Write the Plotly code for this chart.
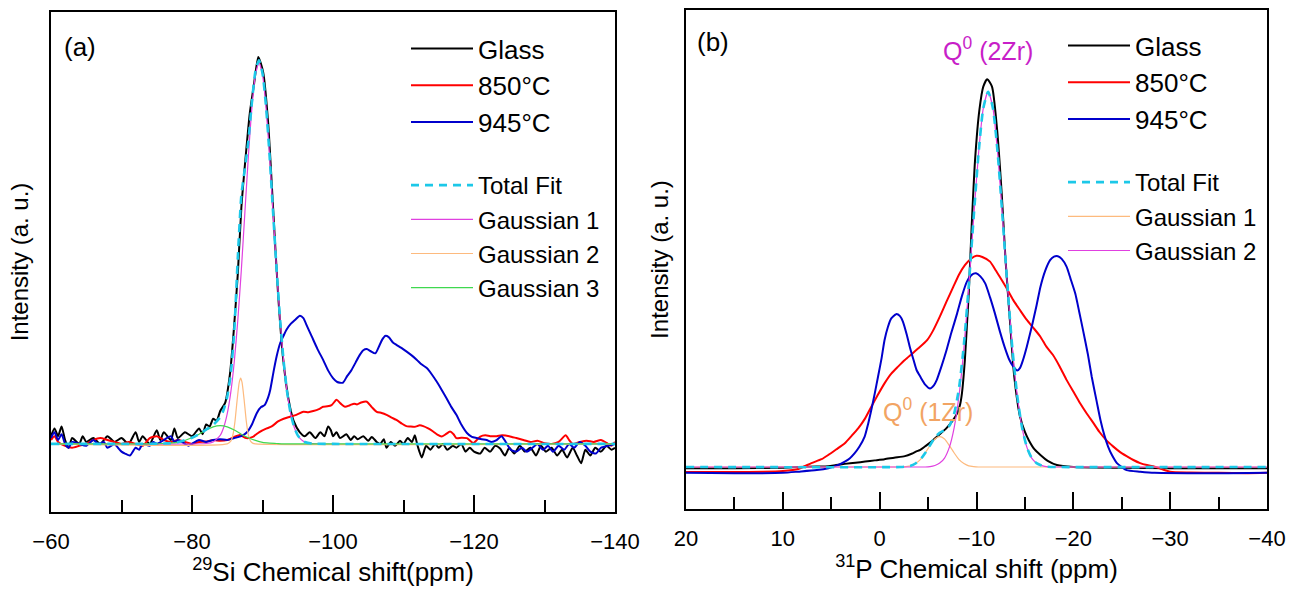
import plotly.graph_objects as go

W, H = 1289, 590

# ---------------- Panel (a): 29Si ----------------
si_glass_x = [-60, -60.5, -61, -61.5, -62, -62.5, -63, -64, -64.5, -65, -66, -67, -68, -69, -70, -71, -72, -72.5, -73, -74, -75, -75.5, -76, -77, -77.5, -78, -79, -80, -81, -81.5, -82, -82.5, -83, -83.5, -84, -84.7, -85.4, -85.9, -86.5, -87.0, -87.7, -88.2, -88.8, -89.4, -90.1, -90.8, -91.5, -92.2, -92.9, -93.7, -94.4, -95.3, -96, -96.7, -97.5, -98.2, -98.8, -99.3, -99.7, -100, -100.5, -101, -101.9, -102.5, -103, -103.5, -104.3, -105, -105.5, -106.2, -106.7, -107.2, -107.6, -108.2, -108.8, -109.5, -110, -110.6, -111.2, -111.6, -112, -112.6, -113.2, -113.8, -114.5, -115, -115.6, -116.2, -117, -117.5, -118.2, -118.8, -119.4, -120, -120.9, -121.5, -122.3, -123, -123.7, -124.4, -125, -125.7, -126.5, -127.2, -128, -128.8, -129.5, -130.2, -131, -131.8, -132.5, -133.2, -134, -134.6, -135.2, -135.8, -136.5, -137.2, -138, -138.8, -139.5, -140]
si_glass_y = [0.02, 0.04, 0.02, 0.045, 0.01, -0.01, 0.015, 0.0, 0.02, 0.005, 0.015, 0.0, 0.02, 0.005, 0.015, 0.0, 0.03, 0.005, 0.02, 0.0, 0.035, 0.01, 0.03, 0.01, 0.04, 0.015, 0.03, 0.02, 0.04, 0.025, 0.05, 0.045, 0.065, 0.06, 0.085, 0.106, 0.183, 0.287, 0.44, 0.61, 0.76, 0.855, 0.93, 1.0, 0.96, 0.83, 0.61, 0.39, 0.225, 0.114, 0.06, 0.03, 0.02, 0.03, 0.015, 0.03, 0.02, 0.045, 0.035, 0.02, 0.03, 0.015, 0.025, 0.01, 0.02, 0.012, 0.02, 0.008, 0.018, 0.005, 0.0, 0.012, -0.01, 0.005, -0.005, 0.008, 0.0, 0.015, 0.005, 0.022, -0.005, -0.035, -0.005, -0.015, 0.0, -0.01, 0.0, -0.015, -0.005, -0.01, 0.0, -0.02, -0.01, -0.02, -0.025, -0.01, -0.02, -0.005, -0.012, -0.03, -0.01, -0.025, -0.005, -0.02, -0.01, -0.03, -0.005, -0.02, -0.01, -0.03, -0.015, -0.035, -0.01, -0.03, -0.05, -0.015, -0.03, -0.01, -0.02, -0.005, -0.015, -0.01]

si_850_x = [-60, -60.5, -61, -62, -63, -64, -65, -66, -67, -68, -69, -70, -71, -72, -73, -74, -75, -76, -77, -78, -79, -80, -81, -82, -83, -84, -85, -86, -86.8, -87.7, -88.7, -89.5, -90.6, -91.3, -92.2, -93, -93.9, -94.8, -95.8, -96.5, -97.2, -98, -98.6, -99.2, -99.8, -100.5, -101.1, -101.7, -102.4, -103.0, -103.4, -104.0, -104.8, -105.5, -106.2, -106.9, -107.6, -108.3, -109.0, -109.8, -110.4, -110.9, -111.6, -112.3, -112.8, -113.5, -114.2, -114.8, -115.4, -116, -116.6, -117.1, -117.5, -118.2, -119.0, -119.9, -120.4, -120.9, -121.6, -122.3, -123.2, -124, -125, -126, -127, -128, -129, -130, -131, -132, -133, -133.5, -134, -135, -136, -137, -138, -139, -139.5, -140]
si_850_y = [0.01, 0.02, 0.005, -0.005, -0.01, -0.005, 0.0, 0.01, 0.015, 0.01, 0.005, 0.0, 0.005, 0.0, -0.005, 0.015, 0.02, 0.01, 0.005, 0.01, 0.005, 0.0, 0.005, 0.006, 0.01, 0.008, 0.01, 0.018, 0.023, 0.015, 0.019, 0.03, 0.04, 0.045, 0.058, 0.065, 0.07, 0.075, 0.083, 0.082, 0.085, 0.09, 0.096, 0.097, 0.1, 0.114, 0.104, 0.096, 0.1, 0.104, 0.102, 0.107, 0.109, 0.095, 0.083, 0.08, 0.075, 0.068, 0.062, 0.052, 0.046, 0.045, 0.044, 0.048, 0.046, 0.04, 0.032, 0.024, 0.019, 0.025, 0.032, 0.025, 0.015, 0.016, 0.015, 0.002, 0.01, 0.019, 0.022, 0.02, 0.02, 0.022, 0.02, 0.015, 0.01, 0.005, 0.008, 0.002, 0.0, 0.005, 0.022, 0.01, 0.0, 0.005, 0.008, 0.005, 0.01, 0.0, -0.005, 0.005]

si_945_x = [-60, -60.5, -61, -61.5, -62, -62.5, -63, -64, -65, -66, -66.7, -67.5, -68, -69, -69.5, -70, -70.5, -71.2, -72, -72.5, -73, -74, -74.5, -75, -76, -77, -77.5, -78, -79, -79.5, -80, -81, -82, -83, -84, -85, -86, -87, -87.8, -88.5, -89.2, -89.8, -90.3, -90.8, -91.1, -91.6, -92.0, -92.5, -93.0, -93.4, -94, -94.6, -95.3, -95.8, -96.3, -97.0, -97.8, -98.6, -99.3, -100.0, -100.6, -101.4, -102, -102.6, -103.2, -103.8, -104.3, -104.8, -105.3, -106.0, -106.6, -107.0, -107.4, -107.9, -108.5, -109.0, -109.7, -110.4, -111.2, -111.9, -112.6, -113.3, -114.0, -114.7, -115.4, -116.1, -116.8, -117.5, -118.2, -119.0, -119.7, -120.4, -121.1, -121.8, -122.5, -123.2, -123.9, -124.5, -125.2, -126, -126.8, -127.5, -128.3, -129, -129.8, -130.5, -131.2, -132, -132.8, -133.5, -134.2, -135, -135.8, -136.5, -137.3, -138, -139, -140]
si_945_y = [0.015, 0.03, 0.01, 0.025, 0.0, -0.01, 0.005, 0.0, -0.005, 0.01, 0.0, 0.005, -0.01, 0.0, -0.01, -0.02, -0.025, -0.03, -0.01, -0.015, 0.0, -0.005, 0.005, 0.0, 0.01, 0.02, 0.005, 0.01, 0.0, -0.005, 0.0, 0.01, 0.005, 0.01, 0.012, 0.01, 0.015, 0.02, 0.03, 0.05, 0.08, 0.095, 0.1, 0.12, 0.14, 0.19, 0.226, 0.26, 0.28, 0.295, 0.31, 0.32, 0.331, 0.325, 0.305, 0.277, 0.245, 0.217, 0.19, 0.17, 0.16, 0.158, 0.175, 0.19, 0.21, 0.23, 0.242, 0.245, 0.24, 0.234, 0.255, 0.27, 0.279, 0.276, 0.262, 0.256, 0.248, 0.239, 0.228, 0.217, 0.205, 0.196, 0.18, 0.161, 0.14, 0.118, 0.095, 0.075, 0.05, 0.028, 0.018, 0.015, 0.012, 0.01, 0.005, 0.01, 0.02, 0.005, -0.015, -0.02, -0.01, -0.02, -0.01, 0.0, -0.015, -0.005, -0.02, -0.005, -0.015, 0.0, -0.01, 0.005, -0.005, -0.02, -0.025, -0.01, -0.005, 0.0]

si_fit_x = [-60, -76, -78, -80, -81, -82, -83, -84, -84.5, -85, -85.5, -86, -86.5, -87, -87.5, -88, -88.5, -89, -89.5, -90, -90.5, -91, -91.5, -92, -92.5, -93, -93.5, -94, -94.5, -95, -95.5, -96, -97, -100, -140]
si_fit_y = [0, 0.001, 0.004, 0.016, 0.025, 0.037, 0.049, 0.069, 0.089, 0.122, 0.181, 0.294, 0.482, 0.642, 0.712, 0.783, 0.883, 0.963, 0.991, 0.958, 0.872, 0.746, 0.599, 0.451, 0.32, 0.213, 0.133, 0.078, 0.043, 0.022, 0.011, 0.005, 0.001, 0, 0]

si_g1_x = [-60, -82, -83, -84, -84.5, -85, -85.5, -86, -86.5, -87, -87.5, -88, -88.5, -89, -89.5, -90, -90.5, -91, -91.5, -92, -92.5, -93, -93.5, -94, -94.5, -95, -95.5, -96, -97, -140]
si_g1_y = [0, 0.001, 0.005, 0.022, 0.043, 0.078, 0.133, 0.213, 0.32, 0.45, 0.598, 0.744, 0.869, 0.954, 0.985, 0.954, 0.869, 0.744, 0.598, 0.45, 0.32, 0.213, 0.133, 0.078, 0.043, 0.022, 0.011, 0.005, 0.001, 0]

si_g2_x = [-60, -85.0, -85.5, -85.8, -86.1, -86.4, -86.7, -86.9, -87.1, -87.4, -87.7, -88.0, -88.3, -88.6, -89.0, -140]
si_g2_y = [0, 0.0, 0.007, 0.023, 0.059, 0.113, 0.159, 0.17, 0.159, 0.113, 0.059, 0.023, 0.007, 0.002, 0, 0]

si_g3_x = [-60, -74, -76, -78, -80, -81, -82, -83, -84, -85, -86, -87, -88, -89, -90, -91, -92, -93, -95, -140]
si_g3_y = [0, 0, 0.001, 0.004, 0.016, 0.025, 0.036, 0.044, 0.047, 0.044, 0.036, 0.025, 0.016, 0.009, 0.004, 0.002, 0.001, 0, 0, 0]

# ---------------- Panel (b): 31P ----------------
p_glass_x = [20, 15, 10, 8.4, 6.5, 5.3, 4.5, 3.6, 2.5, 1.5, 0.5, -0.5, -1.5, -2.6, -3.3, -3.8, -4.2, -4.8, -5.5, -6.2, -6.9, -7.5, -8.0, -8.3, -8.5, -8.8, -9.0, -9.2, -9.5, -9.85, -10.3, -10.7, -11.1, -11.6, -12.1, -12.6, -13.0, -13.5, -13.9, -14.5, -15.0, -15.4, -16.0, -16.6, -17.4, -18.3, -20.0, -25, -30, -35, -40]
p_glass_y = [-0.003, -0.003, -0.002, 0.0, 0.001, 0.002, 0.005, 0.008, 0.011, 0.014, 0.017, 0.02, 0.024, 0.028, 0.034, 0.04, 0.044, 0.055, 0.069, 0.084, 0.1, 0.118, 0.138, 0.16, 0.19, 0.275, 0.36, 0.446, 0.618, 0.789, 0.918, 0.978, 0.997, 0.978, 0.875, 0.704, 0.532, 0.36, 0.232, 0.129, 0.09, 0.069, 0.045, 0.031, 0.015, 0.005, 0.0, -0.002, -0.003, -0.003, -0.003]

p_850_x = [20, 15, 12, 10, 8.4, 7.05, 6, 5.3, 4.5, 3.6, 2.9, 2.2, 1.5, 0.86, 0.2, -0.5, -1.2, -1.9, -2.6, -3.3, -4.0, -4.9, -5.5, -6.2, -6.9, -7.6, -8.2, -8.8, -9.4, -10.0, -10.6, -11.4, -12.0, -12.4, -13.1, -13.8, -14.5, -15.2, -15.9, -16.6, -17.2, -17.9, -18.6, -19.3, -20.0, -20.7, -21.4, -22.1, -22.7, -23.4, -24.1, -24.8, -25.5, -26.2, -26.9, -27.6, -28.4, -29.2, -30, -32, -35, -38, -40]
p_850_y = [-0.013, -0.013, -0.012, -0.01, -0.005, 0.01, 0.02, 0.031, 0.045, 0.061, 0.08, 0.1, 0.125, 0.155, 0.185, 0.215, 0.24, 0.258, 0.275, 0.29, 0.305, 0.326, 0.35, 0.386, 0.425, 0.463, 0.495, 0.519, 0.535, 0.543, 0.54, 0.528, 0.505, 0.489, 0.46, 0.429, 0.403, 0.378, 0.357, 0.335, 0.31, 0.288, 0.258, 0.224, 0.194, 0.164, 0.137, 0.112, 0.09, 0.069, 0.053, 0.039, 0.028, 0.018, 0.01, 0.005, 0.001, -0.006, -0.012, -0.014, -0.015, -0.016, -0.015]

p_945_x = [20, 15, 10, 8.4, 6.5, 5.3, 4.4, 3.6, 3.1, 2.6, 2.1, 1.55, 1.2, 0.86, 0.5, 0.17, -0.2, -0.5, -0.85, -1.2, -1.7, -2.1, -2.4, -2.8, -3.1, -3.5, -3.8, -4.2, -4.7, -5.2, -5.6, -5.9, -6.4, -6.9, -7.4, -8.0, -8.5, -9.0, -9.5, -9.95, -10.4, -10.9, -11.4, -11.9, -12.4, -12.9, -13.4, -13.8, -14.2, -14.5, -14.8, -15.2, -15.7, -16.2, -16.6, -17.1, -17.6, -18.0, -18.4, -18.8, -19.3, -19.7, -20.2, -20.6, -21.0, -21.5, -21.9, -22.4, -22.8, -23.2, -23.6, -24.0, -24.5, -25.0, -25.5, -26.9, -28.4, -32, -36, -40]
p_945_y = [-0.015, -0.016, -0.015, -0.012, -0.008, -0.003, 0.004, 0.014, 0.022, 0.035, 0.052, 0.078, 0.11, 0.147, 0.19, 0.232, 0.28, 0.326, 0.36, 0.382, 0.393, 0.388, 0.374, 0.34, 0.31, 0.275, 0.25, 0.232, 0.212, 0.202, 0.21, 0.224, 0.26, 0.3, 0.345, 0.395, 0.44, 0.476, 0.494, 0.498, 0.49, 0.472, 0.436, 0.395, 0.35, 0.309, 0.275, 0.258, 0.248, 0.255, 0.275, 0.31, 0.36, 0.415, 0.463, 0.505, 0.532, 0.541, 0.542, 0.535, 0.515, 0.485, 0.446, 0.4, 0.352, 0.29, 0.232, 0.17, 0.121, 0.082, 0.052, 0.03, 0.01, 0.0, -0.008, -0.012, -0.015, -0.016, -0.016, -0.015]

p_fit_x = [20, -2.2, -2.7, -3.2, -3.7, -4.2, -4.7, -5.2, -5.7, -6.2, -6.7, -7.2, -7.7, -8.2, -8.7, -9.2, -9.7, -10.2, -10.7, -11.2, -11.7, -12.2, -12.7, -13.2, -13.7, -14.2, -14.7, -15.2, -15.7, -16.2, -16.7, -17.2, -18.2, -40]
p_fit_y = [0, 0, 0.001, 0.003, 0.009, 0.019, 0.036, 0.056, 0.076, 0.088, 0.095, 0.106, 0.138, 0.204, 0.315, 0.466, 0.639, 0.803, 0.922, 0.965, 0.922, 0.803, 0.638, 0.463, 0.306, 0.185, 0.102, 0.051, 0.023, 0.010, 0.004, 0.001, 0, 0]

p_g1_x = [20, -2.2, -2.7, -3.2, -3.7, -4.2, -4.7, -5.2, -5.7, -6.2, -6.7, -7.2, -7.7, -8.2, -8.7, -9.2, -9.7, -10.2, -40]
p_g1_y = [0, 0, 0.001, 0.003, 0.009, 0.019, 0.036, 0.055, 0.072, 0.078, 0.072, 0.055, 0.036, 0.019, 0.009, 0.003, 0.001, 0, 0]

p_g2_x = [20, -4.2, -4.7, -5.2, -5.7, -6.2, -6.7, -7.2, -7.7, -8.2, -8.7, -9.2, -9.7, -10.2, -10.7, -11.2, -11.7, -12.2, -12.7, -13.2, -13.7, -14.2, -14.7, -15.2, -15.7, -16.2, -16.7, -17.2, -18.2, -40]
p_g2_y = [0, 0, 0, 0.001, 0.004, 0.010, 0.023, 0.051, 0.102, 0.185, 0.306, 0.463, 0.638, 0.803, 0.922, 0.965, 0.922, 0.803, 0.638, 0.463, 0.306, 0.185, 0.102, 0.051, 0.023, 0.010, 0.004, 0.001, 0, 0]

# ---------------- styling ----------------
FONT = "Liberation Sans, Arial, sans-serif"
C_GLASS, C_850, C_945 = "#000000", "#FF0000", "#0000CC"
C_FIT, C_MAG, C_ORG, C_GRN = "#1CC8E8", "#E040E0", "#FDBA7E", "#3FD84F"

fig = go.Figure()

def add(x, y, name, color, width, axis, legend, rank, dash="solid", shape="spline"):
    fig.add_trace(go.Scatter(
        x=x, y=y, name=name, mode="lines",
        line=dict(color=color, width=width, dash=dash, shape=shape, smoothing=0.6),
        xaxis="x" if axis == 1 else "x2", yaxis="y" if axis == 1 else "y2",
        legend=legend, legendrank=rank))

# panel a (draw order: data, components, total fit on top)
add(si_glass_x, si_glass_y, "Glass", C_GLASS, 2, 1, "legend", 1)
add(si_850_x, si_850_y, "850°C", C_850, 2, 1, "legend", 2)
add(si_945_x, si_945_y, "945°C", C_945, 2, 1, "legend", 3)
add(si_g1_x, si_g1_y, "Gaussian 1", C_MAG, 1.2, 1, "legend2", 2)
add(si_g2_x, si_g2_y, "Gaussian 2", C_ORG, 1.2, 1, "legend2", 3)
add(si_g3_x, si_g3_y, "Gaussian 3", C_GRN, 1.2, 1, "legend2", 4)
add(si_fit_x, si_fit_y, "Total Fit", C_FIT, 2.6, 1, "legend2", 1, dash="8px,6px")

# panel b
add(p_glass_x, p_glass_y, "Glass", C_GLASS, 2, 2, "legend3", 1)
add(p_850_x, p_850_y, "850°C", C_850, 2, 2, "legend3", 2)
add(p_945_x, p_945_y, "945°C", C_945, 2, 2, "legend3", 3)
add(p_g1_x, p_g1_y, "Gaussian 1", C_ORG, 1.2, 2, "legend4", 2)
add(p_g2_x, p_g2_y, "Gaussian 2", C_MAG, 1.2, 2, "legend4", 3)
add(p_fit_x, p_fit_y, "Total Fit", C_FIT, 2.6, 2, "legend4", 1, dash="8px,6px")

def px_x(p):
    return p / W

def px_y(p):
    return 1 - p / H

xcommon = dict(showgrid=False, zeroline=False, showline=True, linecolor="black", linewidth=2,
               mirror=True, ticks="inside", ticklen=17, tickwidth=2, tickcolor="black",
               tickfont=dict(family=FONT, size=22, color="black"), ticklabelstandoff=9,
               automargin=False)
ycommon = dict(showgrid=False, zeroline=False, showline=True, linecolor="black", linewidth=2,
               mirror=True, ticks="", showticklabels=False, automargin=False)

legcommon = dict(bgcolor="rgba(0,0,0,0)", borderwidth=0, xanchor="left", yanchor="top",
                 traceorder="normal", itemwidth=62)

xtitle_font = dict(family=FONT, size=26, color="black")
ytitle_font = dict(family=FONT, size=24, color="black")

fig.update_layout(
    width=W, height=H, margin=dict(l=0, r=0, t=0, b=0),
    paper_bgcolor="white", plot_bgcolor="white",
    font=dict(family=FONT, color="black"),
    xaxis=dict(domain=[px_x(51), px_x(615)], range=[-60, -140], tick0=-60, dtick=20,
               minor=dict(ticks="inside", ticklen=12, tickwidth=2, tickcolor="black", dtick=10),
               title=dict(text="<sup>29</sup>Si Chemical shift(ppm)", font=xtitle_font, standoff=4),
               anchor="y", **xcommon),
    yaxis=dict(domain=[px_y(512), px_y(12)], range=[-0.176, 1.116], anchor="x",
               title=dict(text="Intensity (a. u.)", font=ytitle_font, standoff=14), **ycommon),
    xaxis2=dict(domain=[px_x(686), px_x(1267)], range=[20, -40], tick0=20, dtick=10,
                minor=dict(ticks="inside", ticklen=12, tickwidth=2, tickcolor="black", dtick=5),
                title=dict(text="<sup>31</sup>P Chemical shift (ppm)", font=xtitle_font, standoff=4),
                anchor="y2", **xcommon),
    yaxis2=dict(domain=[px_y(509), px_y(10)], range=[-0.108, 1.175], anchor="x2",
                title=dict(text="Intensity (a. u.)", font=ytitle_font, standoff=9), **ycommon),
    legend=dict(x=px_x(406), y=px_y(25), font=dict(family=FONT, size=26, color="black"), **legcommon),
    legend2=dict(x=px_x(406), y=px_y(163), font=dict(family=FONT, size=24, color="black"), **legcommon),
    legend3=dict(x=px_x(1063), y=px_y(22), font=dict(family=FONT, size=26, color="black"), **legcommon),
    legend4=dict(x=px_x(1063), y=px_y(160), font=dict(family=FONT, size=24, color="black"), **legcommon),
    showlegend=True,
)

def note(text, x, y, size, color="black", angle=0, xanchor="center"):
    fig.add_annotation(text=text, x=px_x(x), y=px_y(y), xref="paper", yref="paper",
                       xanchor=xanchor, yanchor="middle", showarrow=False, textangle=angle,
                       font=dict(family=FONT, size=size, color=color))

note("(a)", 62, 47, 26, xanchor="left")
note("(b)", 695, 42, 26, xanchor="left")
note("Q<sup>0</sup> (2Zr)", 988, 49, 25, color="#C81EC8")
note("Q<sup>0</sup> (1Zr)", 928, 410, 25, color="#F2A463")

fig.write_html("out.html")
